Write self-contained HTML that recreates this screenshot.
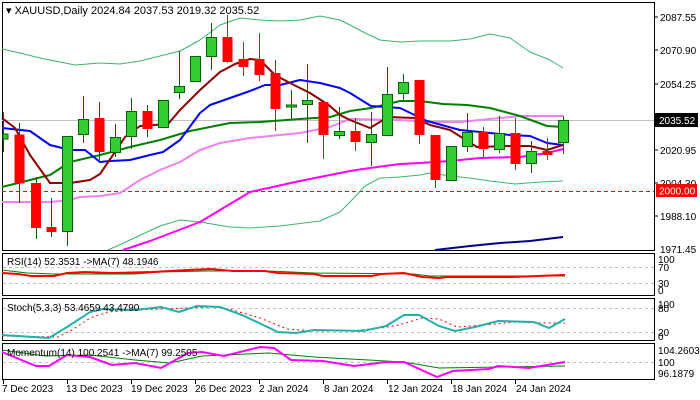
<!DOCTYPE html>
<html><head><meta charset="utf-8"><style>
html,body{margin:0;padding:0;background:#fff;}
svg{display:block;font-family:"Liberation Sans",sans-serif;}
</style></head><body>
<svg width="700" height="400" viewBox="0 0 700 400" xmlns="http://www.w3.org/2000/svg">
<rect width="700" height="400" fill="#fff"/>
<rect x="2.5" y="2.5" width="652" height="248" fill="none" stroke="#000"/>
<line x1="2" y1="120.5" x2="654" y2="120.5" stroke="#c0c0c0"/>
<line x1="2" y1="191.5" x2="654" y2="191.5" stroke="#ff0000" stroke-dasharray="4,3"/>
<g fill="none" stroke-linejoin="round">
<polyline stroke="#3cb371" stroke-width="1" points="2,49 20,53 40,58 60,62 75,65 100,63 120,64 140,61 160,56 180,51 200,40 220,25 240,18 260,20 280,21 300,20 320,16 340,20 350,25 365,33 380,40 400,42 420,41 450,41 470,39 490,34 510,38 530,52 550,60 563,68"/>
<polyline stroke="#3cb371" stroke-width="1" points="108,250 130,240 160,226 180,220 200,222 230,227 250,228 280,226 320,221 340,212 350,202 365,186 380,178 400,177 420,175 430,173 450,176 470,178 490,181 515,184 540,182 563,181"/>
<polyline stroke="#ee82ee" stroke-width="2" points="2,202 50,202 70,200 80,197 100,196 120,193 140,180 160,170 180,162 200,150 220,143 250,138 280,135 300,133 330,127 350,119 400,120 430,122 460,122 490,119 520,116 563,116"/>
<polyline stroke="#ff00ff" stroke-width="2" points="123,250 150,241 200,222 250,192 300,181 350,171 370,168 400,164 420,163 450,161 480,158 520,157 547,153 563,149"/>
<polyline stroke="#00008b" stroke-width="2" points="435,250 470,246 500,243 530,241 563,237"/>
<polyline stroke="#008000" stroke-width="2" points="2,187 30,180 50,175 70,162 100,155 130,147 160,140 190,131 230,123 260,122 300,119 330,117 350,111 371,108 400,101 420,101 443,104 467,105 490,108 520,116 547,126 563,127"/>
<polyline stroke="#0000ff" stroke-width="2" points="2,128 30,131 50,145 70,150 85,150 100,162 110,161 130,160 150,155 163,152 180,140 200,113 210,105 230,98 250,91 265,85 280,85 300,80 320,83 340,88 350,93 371,106 400,108 427,121 460,130 510,135 530,136 547,143 563,145"/>
<polyline stroke="#8b0000" stroke-width="2" points="2,118 15,128 30,155 50,183 70,183 90,180 100,174 115,152 125,137 140,126 168,124 180,110 200,90 220,72 235,64 250,59 260,60 275,75 290,83 310,93 330,106 340,115 350,120 370,128 388,117 415,118 430,125 450,130 477,147 510,146 530,146 547,150 563,145"/>
</g>
<g stroke="#006400" stroke-width="1">
<line x1="3.5" y1="112" x2="3.5" y2="152"/><rect x="3" y="134" width="5" height="5" fill="#32cd32"/>
<line x1="19.5" y1="123" x2="19.5" y2="203"/><rect x="14.5" y="134.5" width="10" height="49" fill="#ff0000" stroke="none"/>
<line x1="36.5" y1="177" x2="36.5" y2="239"/><rect x="31" y="183" width="10" height="45" fill="#ff0000" stroke="none"/>
<line x1="51.5" y1="198" x2="51.5" y2="237"/><rect x="46.5" y="227" width="10" height="5" fill="#ff0000" stroke="none"/>
<line x1="67.5" y1="136" x2="67.5" y2="246"/><rect x="62.5" y="136.5" width="10" height="95" fill="#32cd32"/>
<line x1="83.5" y1="96" x2="83.5" y2="143"/><rect x="78.5" y="119.5" width="10" height="15" fill="#32cd32"/>
<line x1="99.5" y1="102" x2="99.5" y2="160"/><rect x="94.5" y="118" width="10" height="34" fill="#ff0000" stroke="none"/>
<line x1="115.5" y1="124" x2="115.5" y2="157"/><rect x="110.5" y="137.5" width="10" height="15" fill="#32cd32"/>
<line x1="131.5" y1="98" x2="131.5" y2="149"/><rect x="126.5" y="111.5" width="10" height="25" fill="#32cd32"/>
<line x1="147.5" y1="105" x2="147.5" y2="137"/><rect x="142.5" y="111" width="10" height="18" fill="#ff0000" stroke="none"/>
<line x1="163.5" y1="100" x2="163.5" y2="128"/><rect x="158.5" y="100.5" width="10" height="27" fill="#32cd32"/>
<line x1="179.5" y1="51" x2="179.5" y2="99"/><rect x="174.5" y="86.5" width="10" height="6" fill="#32cd32"/>
<line x1="195.5" y1="56" x2="195.5" y2="81"/><rect x="190.5" y="56.5" width="10" height="25" fill="#32cd32"/>
<line x1="211.5" y1="23" x2="211.5" y2="70"/><rect x="206.5" y="37.5" width="10" height="19" fill="#32cd32"/>
<line x1="227.5" y1="15" x2="227.5" y2="63" stroke="#b22222"/><rect x="222.5" y="37" width="10" height="25" fill="#ff0000" stroke="none"/>
<line x1="243.5" y1="42" x2="243.5" y2="76" stroke="#b22222"/><rect x="238.5" y="59" width="10" height="8" fill="#ff0000" stroke="none"/>
<line x1="259.5" y1="33" x2="259.5" y2="81" stroke="#b22222"/><rect x="254.5" y="59" width="10" height="16" fill="#ff0000" stroke="none"/>
<line x1="275.5" y1="60" x2="275.5" y2="131" stroke="#b22222"/><rect x="270.5" y="73" width="10" height="36" fill="#ff0000" stroke="none"/>
<line x1="291.5" y1="90" x2="291.5" y2="119"/><rect x="286.5" y="105" width="10" height="2" fill="#32cd32"/>
<line x1="307.5" y1="64" x2="307.5" y2="143"/><rect x="302.5" y="100.5" width="10" height="4" fill="#32cd32"/>
<line x1="323.5" y1="102" x2="323.5" y2="159" stroke="#b22222"/><rect x="318.5" y="102" width="10" height="33" fill="#ff0000" stroke="none"/>
<line x1="339.5" y1="107" x2="339.5" y2="139"/><rect x="334.5" y="131.5" width="10" height="4" fill="#32cd32"/>
<line x1="355.5" y1="118" x2="355.5" y2="151" stroke="#b22222"/><rect x="350.5" y="131" width="10" height="11" fill="#ff0000" stroke="none"/>
<line x1="371.5" y1="112" x2="371.5" y2="166"/><rect x="366.5" y="134.5" width="10" height="8" fill="#32cd32"/>
<line x1="387.5" y1="67" x2="387.5" y2="135"/><rect x="382.5" y="94.5" width="10" height="41" fill="#32cd32"/>
<line x1="403.5" y1="74" x2="403.5" y2="101"/><rect x="398.5" y="82.5" width="10" height="11" fill="#32cd32"/>
<line x1="419.5" y1="80" x2="419.5" y2="144" stroke="#b22222"/><rect x="414.5" y="80" width="10" height="55" fill="#ff0000" stroke="none"/>
<line x1="435.5" y1="135" x2="435.5" y2="188" stroke="#b22222"/><rect x="430.5" y="135" width="10" height="45" fill="#ff0000" stroke="none"/>
<line x1="451.5" y1="146" x2="451.5" y2="181"/><rect x="446.5" y="146.5" width="10" height="34" fill="#32cd32"/>
<line x1="467.5" y1="113" x2="467.5" y2="152"/><rect x="462.5" y="132.5" width="10" height="14" fill="#32cd32"/>
<line x1="483.5" y1="127" x2="483.5" y2="158" stroke="#b22222"/><rect x="478.5" y="132" width="10" height="17" fill="#ff0000" stroke="none"/>
<line x1="499.5" y1="116" x2="499.5" y2="153"/><rect x="494.5" y="133.5" width="10" height="16" fill="#32cd32"/>
<line x1="515.5" y1="118" x2="515.5" y2="170" stroke="#b22222"/><rect x="510.5" y="133" width="10" height="31" fill="#ff0000" stroke="none"/>
<line x1="531.5" y1="141" x2="531.5" y2="173"/><rect x="526.5" y="151.5" width="10" height="12" fill="#32cd32"/>
<line x1="547.5" y1="138" x2="547.5" y2="160" stroke="#b22222"/><rect x="542.5" y="151" width="10" height="4" fill="#ff0000" stroke="none"/>
<line x1="563.5" y1="116" x2="563.5" y2="154"/><rect x="558.5" y="120.5" width="10" height="22" fill="#32cd32"/>
</g>
<text x="6" y="14" font-size="11" fill="#000">▾ XAUUSD,Daily  2024.84 2037.53 2019.32 2035.52</text>
<g stroke="#000"><line x1="654.5" y1="17" x2="658" y2="17"/><line x1="654.5" y1="50" x2="658" y2="50"/><line x1="654.5" y1="84" x2="658" y2="84"/><line x1="654.5" y1="150" x2="658" y2="150"/><line x1="654.5" y1="183" x2="658" y2="183"/><line x1="654.5" y1="216" x2="658" y2="216"/></g>
<g font-size="10" fill="#000">
<text x="660" y="21">2087.55</text>
<text x="660" y="54">2070.90</text>
<text x="660" y="88">2054.25</text>
<text x="660" y="121">2037.60</text>
<text x="660" y="154">2020.95</text>
<text x="660" y="187">2004.30</text>
<text x="660" y="220">1988.10</text>
<text x="660" y="253">1971.45</text>
</g>
<rect x="655" y="113" width="43" height="14" fill="#000"/>
<text x="659" y="124" font-size="10" fill="#fff">2035.52</text>
<rect x="656" y="184" width="41" height="13" fill="#ff0000"/>
<text x="659" y="194.5" font-size="10" fill="#fff">2000.00</text>
<!-- RSI -->
<rect x="2.5" y="253.5" width="652" height="42" fill="none" stroke="#000"/>
<line x1="3" y1="267.5" x2="654" y2="267.5" stroke="#c0c0c0" stroke-dasharray="3,3"/>
<line x1="3" y1="283.5" x2="654" y2="283.5" stroke="#c0c0c0" stroke-dasharray="3,3"/>
<polyline fill="none" stroke="#008000" stroke-width="1" points="2,270 27,273 54,274 135,274 161,272 206,271 269,271 314,273 413,274 430,276 565,276"/>
<polyline fill="none" stroke="#ff0000" stroke-width="2" points="2,273 18,274 31,276 54,276 67,273 85,272 112,273 152,272 188,270 211,269 233,271 265,271 278,273 314,274 323,276 372,276 381,274 404,273 422,277 439,278 448,277 511,277 538,276 565,275"/>
<text x="7" y="265" font-size="10" fill="#000">RSI(14) 52.3531  -&gt;MA(7) 48.1946</text>
<g font-size="10" fill="#000"><text x="658" y="263">100</text><text x="658" y="271">70</text><text x="658" y="287">30</text><text x="658" y="294">0</text></g>
<!-- Stoch -->
<rect x="2.5" y="298.5" width="652" height="42" fill="none" stroke="#000"/>
<line x1="3" y1="308.5" x2="654" y2="308.5" stroke="#c0c0c0" stroke-dasharray="3,3"/>
<line x1="3" y1="332.5" x2="654" y2="332.5" stroke="#c0c0c0" stroke-dasharray="3,3"/>
<polyline fill="none" stroke="#ff0000" stroke-width="1" stroke-dasharray="2,3" points="2,336 58,337 72,330 90,318 108,312 135,310 161,309 188,308 215,307 233,310 260,318 287,329 314,331 350,331 381,328 399,325 422,318 439,319 457,327 484,325 516,322 538,323 565,323"/>
<polyline fill="none" stroke="#20b2aa" stroke-width="2" points="2,335 49,338 67,327 90,312 103,309 135,310 161,307 179,312 197,306 220,307 242,315 278,332 296,333 314,330 363,331 386,326 404,315 419,315 439,326 455,331 475,327 498,321 534,322 549,328 565,319"/>
<text x="7" y="311" font-size="10" fill="#000">Stoch(5,3,3) 53.4659 43.4790</text>
<g font-size="10" fill="#000"><text x="658" y="308">100</text><text x="658" y="312">80</text><text x="658" y="336">20</text><text x="658" y="340">0</text></g>
<!-- Momentum -->
<rect x="2.5" y="343.5" width="652" height="36" fill="none" stroke="#000"/>
<line x1="3" y1="362.5" x2="654" y2="362.5" stroke="#c0c0c0" stroke-dasharray="3,3"/>
<polyline fill="none" stroke="#008000" stroke-width="1" points="2,350 45,356 90,355 135,360 170,363 202,356 269,353 314,357 404,362 439,368 565,366"/>
<polyline fill="none" stroke="#ff00ff" stroke-width="2" points="2,352 36,366 49,366 67,355 90,357 112,365 135,363 161,368 188,353 202,352 224,356 260,347 274,348 291,360 323,361 354,366 386,362 404,362 437,377 453,371 489,369 498,366 529,368 565,362"/>
<text x="7" y="356" font-size="10" fill="#000">Momentum(14) 100.2541  -&gt;MA(7) 99.2505</text>
<g font-size="10" fill="#000"><text x="658" y="354">104.2603</text><text x="658" y="366">100</text><text x="658" y="377">96.1879</text></g>
<g stroke="#000"><line x1="3.5" y1="380" x2="3.5" y2="384"/><line x1="67.5" y1="380" x2="67.5" y2="384"/><line x1="131.5" y1="380" x2="131.5" y2="384"/><line x1="195.5" y1="380" x2="195.5" y2="384"/><line x1="259.5" y1="380" x2="259.5" y2="384"/><line x1="323.5" y1="380" x2="323.5" y2="384"/><line x1="387.5" y1="380" x2="387.5" y2="384"/><line x1="451.5" y1="380" x2="451.5" y2="384"/><line x1="515.5" y1="380" x2="515.5" y2="384"/></g>
<g font-size="10" fill="#000">
<text x="2" y="392">7 Dec 2023</text>
<text x="66" y="392">13 Dec 2023</text>
<text x="131" y="392">19 Dec 2023</text>
<text x="195" y="392">26 Dec 2023</text>
<text x="259" y="392">2 Jan 2024</text>
<text x="324" y="392">8 Jan 2024</text>
<text x="388" y="392">12 Jan 2024</text>
<text x="452" y="392">18 Jan 2024</text>
<text x="516" y="392">24 Jan 2024</text>
</g>
</svg>
</body></html>
